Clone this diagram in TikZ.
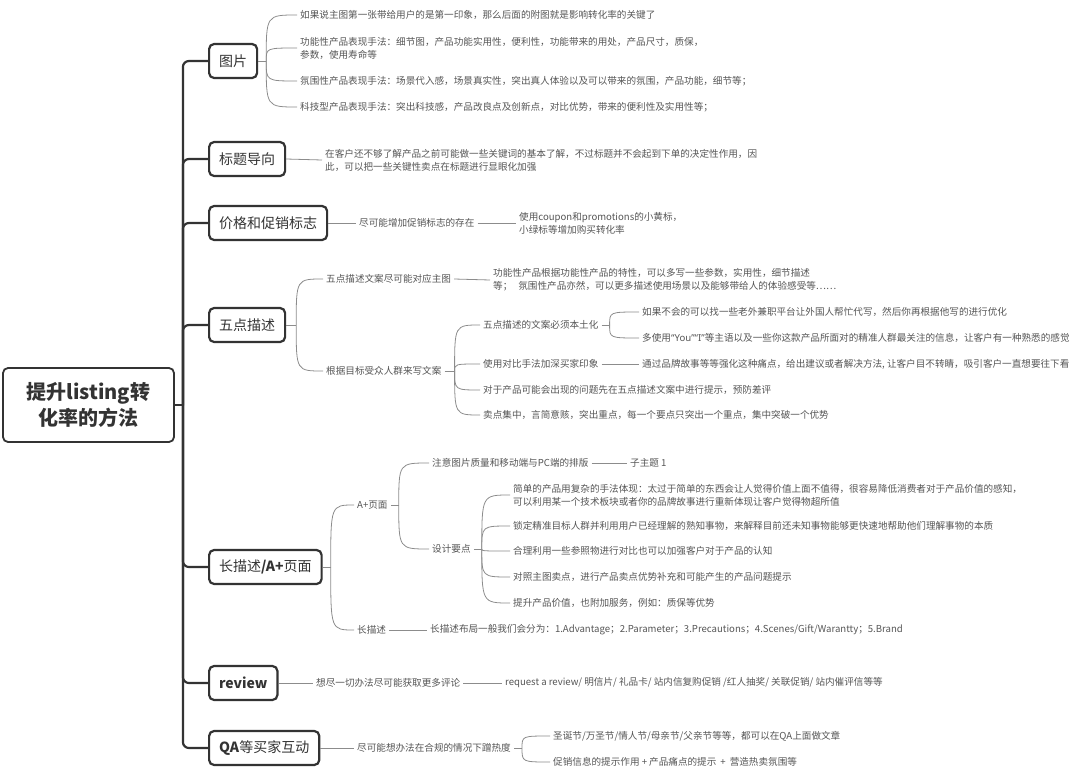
\documentclass[tikz,border=0pt]{standalone}
\usepackage{fontspec}
\setmainfont{Noto Sans CJK SC}
\newfontfamily\latinfont{Noto Sans}
\usetikzlibrary{calc}

\definecolor{inkdark}{HTML}{333333}
\definecolor{inktext}{HTML}{555555}
\definecolor{inkline}{HTML}{8C8C8C}

\begin{document}
\begin{tikzpicture}[
  x=1pt, y=-1pt,
  root/.style = {draw=inkdark, line width=1.8pt, rounded corners=5pt, minimum width=171pt, minimum height=74pt, align=center, text=inkdark, font=\fontsize{20}{26}\selectfont\bfseries},
  topic/.style = {draw=inkdark, line width=2.2pt, rounded corners=5pt, anchor=west, minimum height=34pt, inner xsep=10pt, text=inkdark, font=\fontsize{14}{16}\selectfont},
  leaf/.style = {anchor=west, inner xsep=3pt, inner ysep=1pt, align=left, text=inktext, font=\fontsize{9.6}{13}\selectfont},
  trunk/.style = {draw=inkdark, line width=2.2pt, rounded corners=6pt},
  twig/.style = {draw=inkline, line width=0.8pt}
]

% Page
\useasboundingbox (0,0) rectangle (1080,782);

% Root and main topics
\node[root] (core) at (88.5,405) {提升listing转\\化率的方法};
\node[topic] (pic) at (208,61) {图片};
\node[topic] (title) at (208,159) {标题导向};
\node[topic] (price) at (208,223) {价格和促销标志};
\node[topic] (five) at (208,325) {五点描述};
\node[topic] (long) at (208,567) {长描述\textbf{/A+}页面};
\node[topic] (review) at (208,683) {\textbf{review}};
\node[topic] (qa) at (208,748) {\textbf{QA}等买家互动};

% Trunk
\draw[trunk] (core.east) -- ++(8,0) coordinate (hub);
\foreach \t in {pic,title,price,five,long,review,qa}
  \draw[trunk] (hub) |- (\t.west);

% Pictures
\node[leaf] (pic1) at (297,15) {如果说主图第一张带给用户的是第一印象，那么后面的附图就是影响转化率的关键了};
\node[leaf] (pic2) at (297,48) {功能性产品表现手法：细节图，产品功能实用性，便利性，功能带来的用处，产品尺寸，质保，\\参数，使用寿命等};
\node[leaf] (pic3) at (297,81) {氛围性产品表现手法：场景代入感，场景真实性，突出真人体验以及可以带来的氛围，产品功能，细节等；};
\node[leaf] (pic4) at (297,107) {科技型产品表现手法：突出科技感，产品改良点及创新点，对比优势，带来的便利性及实用性等；};
\draw[twig] (pic.east) -- ++(8,0) coordinate (picfork);
\foreach \c in {pic1,pic2,pic3,pic4}
  \draw[twig] (picfork) .. controls (picfork |- \c.west) .. (\c.west);

% Title
\node[leaf] (title1) at (322,160) {在客户还不够了解产品之前可能做一些关键词的基本了解，不过标题并不会起到下单的决定性作用，因\\此，可以把一些关键性卖点在标题进行显眼化加强};
\draw[twig] (title.east) -- (title1.west);

% Price and promotion
\node[leaf] (price1) at (356,223) {尽可能增加促销标志的存在};
\node[leaf] (price2) at (516,223) {使用coupon和promotions的小黄标，\\小绿标等增加购买转化率};
\draw[twig] (price.east) -- (price1.west);
\draw[twig] (price1.east) -- (price2.west);

% Five points
\node[leaf] (fa) at (323,279) {五点描述文案尽可能对应主图};
\node[leaf] (fa1) at (490,280) {功能性产品根据功能性产品的特性，可以多写一些参数，实用性，细节描述\\等；\hspace{6pt}氛围性产品亦然，可以更多描述使用场景以及能够带给人的体验感受等……};
\node[leaf] (fb) at (323,371) {根据目标受众人群来写文案};
\node[leaf] (fb1) at (480,325) {五点描述的文案必须本土化};
\node[leaf] (fb1a) at (639,312) {如果不会的可以找一些老外兼职平台让外国人帮忙代写，然后你再根据他写的进行优化};
\node[leaf] (fb1b) at (639,338) {多使用{\latinfont “You”“I”}等主语以及一些你这款产品所面对的精准人群最关注的信息，让客户有一种熟悉的感觉};
\node[leaf] (fb2) at (480,364) {使用对比手法加深买家印象};
\node[leaf] (fb2a) at (639,364) {通过品牌故事等等强化这种痛点，给出建议或者解决方法, 让客户目不转睛，吸引客户一直想要往下看};
\node[leaf] (fb3) at (480,390) {对于产品可能会出现的问题先在五点描述文案中进行提示，预防差评};
\node[leaf] (fb4) at (480,415) {卖点集中，言简意赅，突出重点，每一个要点只突出一个重点，集中突破一个优势};
\draw[twig] (five.east) -- ++(10,0) coordinate (fivefork);
\foreach \c in {fa,fb}
  \draw[twig] (fivefork) .. controls (fivefork |- \c.west) .. (\c.west);
\draw[twig] (fa.east) -- (fa1.west);
\draw[twig] (fb.east) -- ++(10,0) coordinate (fbfork);
\foreach \c in {fb1,fb2,fb3,fb4}
  \draw[twig] (fbfork) .. controls (fbfork |- \c.west) .. (\c.west);
\draw[twig] (fb1.east) -- ++(8,0) coordinate (fb1fork);
\foreach \c in {fb1a,fb1b}
  \draw[twig] (fb1fork) .. controls (fb1fork |- \c.west) .. (\c.west);
\draw[twig] (fb2.east) -- (fb2a.west);

% Long description / A+
\node[leaf] (la) at (354,505) {A+页面};
\node[leaf] (la1) at (429,463) {注意图片质量和移动端与PC端的排版};
\node[leaf] (la1a) at (627,463) {子主题 1};
\node[leaf] (la2) at (429,549) {设计要点};
\node[leaf] (ld1) at (510,495) {简单的产品用复杂的手法体现：太过于简单的东西会让人觉得价值上面不值得，很容易降低消费者对于产品价值的感知，\\可以利用某一个技术板块或者你的品牌故事进行重新体现让客户觉得物超所值};
\node[leaf] (ld2) at (510,526) {锁定精准目标人群并利用用户已经理解的熟知事物，来解释目前还未知事物能够更快速地帮助他们理解事物的本质};
\node[leaf] (ld3) at (510,551) {合理利用一些参照物进行对比也可以加强客户对于产品的认知};
\node[leaf] (ld4) at (510,577) {对照主图卖点，进行产品卖点优势补充和可能产生的产品问题提示};
\node[leaf] (ld5) at (510,603) {提升产品价值，也附加服务，例如：质保等优势};
\node[leaf] (lb) at (354,630) {长描述};
\node[leaf] (lb1) at (427,630) {长描述布局一般我们会分为：1.Advantage；2.Parameter；3.Precautions；4.Scenes/Gift/Warantty；5.Brand};
\draw[twig] (long.east) -- ++(8,0) coordinate (longfork);
\foreach \c in {la,lb}
  \draw[twig] (longfork) .. controls (longfork |- \c.west) .. (\c.west);
\draw[twig] (la.east) -- ++(8,0) coordinate (lafork);
\foreach \c in {la1,la2}
  \draw[twig] (lafork) .. controls (lafork |- \c.west) .. (\c.west);
\draw[twig] (la1.east) -- (la1a.west);
\draw[twig] (la2.east) -- ++(8,0) coordinate (la2fork);
\foreach \c in {ld1,ld2,ld3,ld4,ld5}
  \draw[twig] (la2fork) .. controls (la2fork |- \c.west) .. (\c.west);
\draw[twig] (lb.east) -- (lb1.west);

% Review
\node[leaf] (rv1) at (313,683) {想尽一切办法尽可能获取更多评论};
\node[leaf] (rv2) at (502,683) {request a review/ 明信片/ 礼品卡/ 站内信复购促销 /红人抽奖/ 关联促销/ 站内催评信等等};
\draw[twig] (review.east) -- (rv1.west);
\draw[twig] (rv1.east) -- (rv2.west);

% QA
\node[leaf] (qa1) at (354,748) {尽可能想办法在合规的情况下蹭热度};
\node[leaf] (qa1a) at (550,736) {圣诞节/万圣节/情人节/母亲节/父亲节等等，都可以在QA上面做文章};
\node[leaf] (qa1b) at (550,762) {促销信息的提示作用 + 产品痛点的提示\hspace{4pt}+\hspace{4pt}营造热卖氛围等};
\draw[twig] (qa.east) -- (qa1.west);
\draw[twig] (qa1.east) -- ++(8,0) coordinate (qafork);
\foreach \c in {qa1a,qa1b}
  \draw[twig] (qafork) .. controls (qafork |- \c.west) .. (\c.west);

\end{tikzpicture}
\end{document}
